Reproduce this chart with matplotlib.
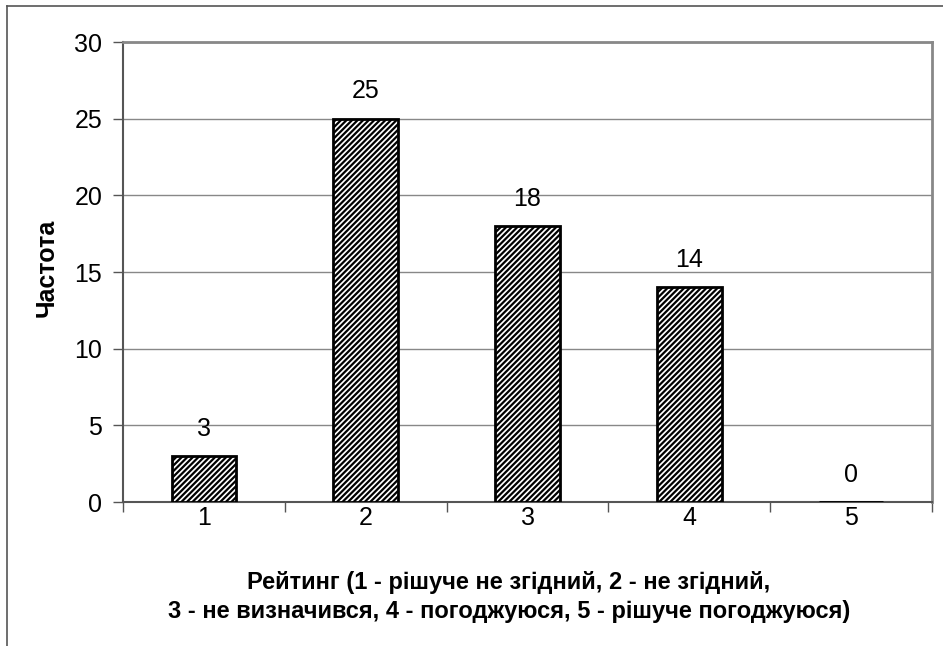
import matplotlib.pyplot as plt
from matplotlib.lines import Line2D
import numpy as np

plt.rcParams['font.family'] = ['Liberation Sans', 'DejaVu Sans']
plt.rcParams['hatch.linewidth'] = 1.6

ratings = ['1', '2', '3', '4', '5']
freq = [3, 25, 18, 14, 0]
yticks = [0, 5, 10, 15, 20, 25, 30]

W, H = 943, 646
fig = plt.figure(figsize=(W / 100, H / 100), dpi=100)
ax = fig.add_axes([123 / W, 1 - 502 / H, (932 - 123) / W, (502 - 42) / H])

x = np.arange(len(ratings))
ax.bar(x, freq, width=0.4, color='white', edgecolor='black', linewidth=2,
       hatch='//////', zorder=3)
for xi, v in zip(x, freq):
    ax.annotate(str(v), (xi, v), xytext=(0, 11), textcoords='offset points',
                ha='center', va='bottom', fontsize=18)

ax.set_xlim(-0.5, len(ratings) - 0.5)
ax.set_ylim(0, 30)
ax.set_yticks(yticks)
ax.set_xticks(x)
ax.set_xticklabels(ratings)
ax.set_xticks(np.arange(len(ratings) + 1) - 0.5, minor=True)
ax.tick_params(axis='x', which='major', length=0, pad=3, labelsize=18)
ax.tick_params(axis='x', which='minor', length=7, width=1, color='#555555')
ax.tick_params(axis='y', length=7, width=1, color='#555555', pad=8, labelsize=18)

ax.yaxis.grid(True, color='#888888', linewidth=1)
ax.set_axisbelow(True)
for s in ['top', 'right']:
    ax.spines[s].set_color('#888888')
    ax.spines[s].set_linewidth(2)
for s in ['left', 'bottom']:
    ax.spines[s].set_color('#555555')
    ax.spines[s].set_linewidth(1.5)

ax.set_ylabel('Частота', fontsize=18, fontweight='bold')
ax.yaxis.set_label_coords((59 - 123) / 809, (502 - 268) / 460)

fig.text(509 / W, 1 - 597 / H,
         'Рейтинг (1 - рішуче не згідний, 2 - не згідний,\n'
         '3 - не визначився, 4 - погоджуюся, 5 - рішуче погоджуюся)',
         ha='center', va='center', fontsize=17, fontweight='bold',
         linespacing=1.3)

# outer frame
fig.add_artist(Line2D([7 / W, 1], [1 - 6 / H, 1 - 6 / H], color='#555555', lw=1.2))
fig.add_artist(Line2D([7 / W, 7 / W], [0, 1 - 6 / H], color='#555555', lw=1.2))

fig.savefig('out.png', dpi=100)
